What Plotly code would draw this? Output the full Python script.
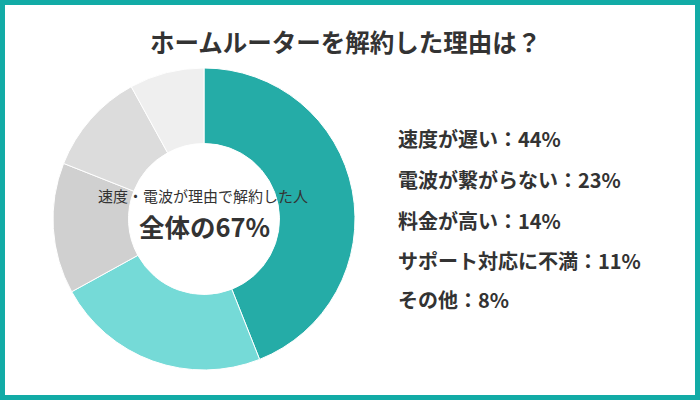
import plotly.graph_objects as go

labels = ["速度が遅い", "電波が繋がらない", "料金が高い", "サポート対応に不満", "その他"]
values = [44, 23, 14, 11, 8]
colors = ["#25aca7", "#75dad7", "#d0d0d0", "#dcdcdc", "#efefef"]
title_text = "ホームルーターを解約した理由は？"
center_line1 = "速度・電波が理由で解約した人"
center_line2 = "全体の67%"

FONT = "Noto Sans CJK JP, Noto Sans, sans-serif"
W, H = 700, 400

fig = go.Figure()
fig.add_trace(go.Pie(
    labels=labels,
    values=values,
    sort=False,
    direction="clockwise",
    rotation=0,
    hole=0.5,
    marker=dict(colors=colors, line=dict(color="white", width=1)),
    textinfo="none",
    hoverinfo="none",
    showlegend=False,
    domain=dict(x=[53 / W, 355 / W], y=[(400 - 370) / H, (400 - 68) / H]),
))

annotations = [
    dict(text=f"<b>{title_text}</b>", x=345 / W, y=1 - 41 / H, xref="paper", yref="paper",
         showarrow=False, font=dict(family=FONT, size=24.5, color="#333333"), xanchor="center", yanchor="middle"),
    dict(text=center_line1, x=203 / W, y=1 - 195 / H, xref="paper", yref="paper",
         showarrow=False, font=dict(family=FONT, size=15, color="#333333"), xanchor="center", yanchor="middle"),
    dict(text=f"<b>{center_line2}</b>", x=204 / W, y=1 - 226 / H, xref="paper", yref="paper",
         showarrow=False, font=dict(family=FONT, size=25.5, color="#333333"), xanchor="center", yanchor="middle"),
]
legend_y = [138, 180, 220, 260, 299]
for lab, val, yy in zip(labels, values, legend_y):
    annotations.append(dict(
        text=f"<b>{lab}：{val}%</b>", x=396 / W, y=1 - yy / H, xref="paper", yref="paper",
        showarrow=False, font=dict(family=FONT, size=20, color="#333333"),
        xanchor="left", yanchor="middle"))

fig.update_layout(
    width=W, height=H,
    margin=dict(l=0, r=0, t=0, b=0),
    paper_bgcolor="white",
    plot_bgcolor="white",
    annotations=annotations,
    shapes=[dict(type="rect", xref="paper", yref="paper", x0=0, x1=1, y0=0, y1=1,
                 line=dict(color="#12aba6", width=10), fillcolor="rgba(0,0,0,0)", layer="above")],
)

fig.write_html("out.html")
